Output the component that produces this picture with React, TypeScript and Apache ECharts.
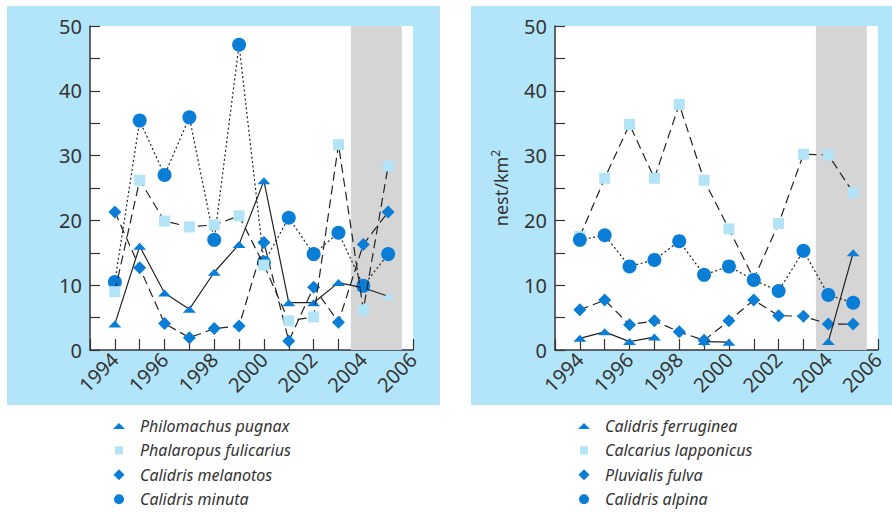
import React, { useEffect, useRef } from "react";
import * as echarts from "echarts";

const years = [1994, 1995, 1996, 1997, 1998, 1999, 2000, 2001, 2002, 2003, 2004, 2005];

// Left panel
const leftNames = ["Philomachus pugnax", "Phalaropus fulicarius", "Calidris melanotos", "Calidris minuta"];
const pugnax = [4, 16, 8.8, 6.3, 12, 16.3, 26.1, 7.3, 7.3, 10.4, 9.6, 8.3];
const pugnaxPaleYears = [2005];
const fulicarius = [9, 26.2, 19.9, 19, 19.3, 20.7, 13.1, 4.5, 5.1, 31.7, 6.2, 28.4];
const melanotos = [21.3, 12.7, 4.1, 1.9, 3.3, 3.7, 16.6, 1.4, 9.7, 4.3, 16.3, 21.3];
const minuta = [10.5, 35.4, 27, 35.9, 17, 47.1, 13.5, 20.4, 14.8, 18.1, 9.9, 14.8];

// Right panel
const rightNames = ["Calidris ferruginea", "Calcarius lapponicus", "Pluvialis fulva", "Calidris alpina"];
const ferruginea = [1.8, 2.8, 1.3, 2.0, null, 1.3, 1.2, null, null, null, 1.3, 15.0];
const lapponicus = [17.5, 26.5, 34.8, 26.5, 37.9, 26.2, 18.7, 11, 19.5, 30.2, 30.1, 24.3];
const fulva = [6.2, 7.7, 3.9, 4.5, 2.8, 1.5, 4.5, 7.7, 5.3, 5.2, 4.0, 4.0];
const alpina = [17.0, 17.7, 12.9, 13.9, 16.8, 11.6, 12.9, 10.8, 9.1, 15.3, 8.5, 7.3];

const shadedYears = [2003.5, 2005.55];
const xRange = [1993, 2006];
const yRange = [0, 50];
const yAxisName = "nest/km";

const DARK = "#0a7ed6";
const LIGHT = "#b3e3f7";
const PANEL = "#b3e5fa";
const INK = "#333333";
const FONT = "Noto Sans";

const TRI = "path://M0,7L6.5,0L13,7Z";
// legend icons, padded to a common 12x12 box
const L_TRI = "path://M0,0M12,12M0,9L6,3L12,9Z";
const L_SQR = "path://M0,0M12,12M2,2L10,2L10,10L2,10Z";
const L_DIA = "path://M0,0M12,12M6,0.5L11.5,6L6,11.5L0.5,6Z";
const L_CIR = "path://M0,0M12,12M6,1A5,5,0,1,1,6,11A5,5,0,1,1,6,1Z";

const pairs = (vals: (number | null)[], pale: number[] = []) =>
  years.map((y, i) =>
    pale.indexOf(y) >= 0 ? { value: [y, vals[i]], itemStyle: { color: LIGHT } } : [y, vals[i]]
  );

export default function App() {
  const ref = useRef<HTMLDivElement>(null);
  useEffect(() => {
    if (!ref.current) return;
    const chart = echarts.init(ref.current, undefined, { renderer: "svg" });

    const xAxisBase = (gridIndex: number) => ({
      type: "value",
      gridIndex,
      min: xRange[0],
      max: xRange[1],
      interval: 1,
      axisLine: { show: true, onZero: false, lineStyle: { color: INK, width: 1.5 } },
      axisTick: { show: true, inside: true, length: 11, lineStyle: { color: INK, width: 1.2 } },
      splitLine: { show: false },
      axisLabel: {
        rotate: 45,
        margin: 6,
        fontSize: 20,
        fontFamily: FONT,
        color: INK,
        formatter: (v: number) => (v % 2 === 0 ? String(v) : ""),
      },
    });
    const yAxisBase = (gridIndex: number, withName: boolean) => ({
      type: "value",
      gridIndex,
      min: yRange[0],
      max: yRange[1],
      interval: 5,
      axisLine: { show: true, lineStyle: { color: INK, width: 1.5 } },
      axisTick: { show: true, inside: true, length: 10, lineStyle: { color: INK, width: 1.2 } },
      splitLine: { show: false },
      axisLabel: {
        margin: 8,
        fontSize: 20,
        fontFamily: FONT,
        color: INK,
        formatter: (v: number) => (v % 10 === 0 ? String(v) : ""),
      },
      name: withName ? "{a|" + yAxisName + "}{b|2}" : "",
      nameLocation: "middle",
      nameGap: 42,
      nameTextStyle: {
        rich: {
          a: { fontSize: 18, fontFamily: FONT, color: INK, lineHeight: 24 },
          b: { fontSize: 12, fontFamily: FONT, color: INK, verticalAlign: "top", lineHeight: 24 },
        },
      },
    });

    const lineSeries = (
      name: string,
      data: any[],
      idx: number,
      symbol: string,
      size: number | number[],
      color: string,
      dash: any,
      z: number
    ) => ({
      type: "line",
      name,
      xAxisIndex: idx,
      yAxisIndex: idx,
      data,
      symbol,
      symbolSize: size,
      showSymbol: true,
      connectNulls: false,
      z,
      itemStyle: { color, borderWidth: 0 },
      lineStyle: { color: "#222", width: 1.2, type: dash },
    });

    const band = (idx: number) => ({
      type: "line",
      name: "band" + idx,
      xAxisIndex: idx,
      yAxisIndex: idx,
      data: [],
      z: 1,
      markArea: {
        silent: true,
        itemStyle: { color: "#d5d5d5" },
        data: [[{ xAxis: shadedYears[0] }, { xAxis: shadedYears[1] }]],
      },
    });

    const legendBase = (left: number, names: string[]) => ({
      orient: "vertical",
      left,
      top: 418,
      padding: 0,
      itemWidth: 32,
      itemHeight: 12,
      itemGap: 8.4,
      selectedMode: false,
      textStyle: { fontSize: 16, fontStyle: "italic", fontFamily: FONT, color: INK },
      data: [
        { name: names[0], icon: L_TRI },
        { name: names[1], icon: L_SQR },
        { name: names[2], icon: L_DIA },
        { name: names[3], icon: L_CIR },
      ],
    });

    chart.setOption({
      animation: false,
      graphic: [
        { type: "rect", z: -10, silent: true, shape: { x: 7, y: 6, width: 433, height: 399 }, style: { fill: PANEL } },
        { type: "rect", z: -10, silent: true, shape: { x: 471, y: 6, width: 421, height: 399 }, style: { fill: PANEL } },
      ],
      grid: [
        { left: 90, top: 26, width: 323, height: 324, show: true, backgroundColor: "#ffffff", borderWidth: 0 },
        { left: 555, top: 26, width: 323, height: 324, show: true, backgroundColor: "#ffffff", borderWidth: 0 },
      ],
      xAxis: [xAxisBase(0), xAxisBase(1)],
      yAxis: [yAxisBase(0, false), yAxisBase(1, true)],
      legend: [legendBase(113, leftNames), legendBase(578, rightNames)],
      series: [
        band(0),
        band(1),
        lineSeries(leftNames[3], pairs(minuta), 0, "circle", 14, DARK, [2, 2.5], 2),
        lineSeries(leftNames[2], pairs(melanotos), 0, "diamond", [13, 13], DARK, [9, 5], 3),
        lineSeries(leftNames[0], pairs(pugnax, pugnaxPaleYears), 0, TRI, [13, 7], DARK, "solid", 4),
        lineSeries(leftNames[1], pairs(fulicarius), 0, "rect", 11, LIGHT, [9, 5], 5),
        lineSeries(rightNames[1], pairs(lapponicus), 1, "rect", 11, LIGHT, [9, 5], 2),
        lineSeries(rightNames[2], pairs(fulva), 1, "diamond", [13, 13], DARK, [9, 5], 3),
        lineSeries(rightNames[0], pairs(ferruginea), 1, TRI, [13, 7], DARK, "solid", 4),
        lineSeries(rightNames[3], pairs(alpina), 1, "circle", 14, DARK, [2, 2.5], 5),
      ],
    });
    return () => chart.dispose();
  }, []);
  return (
    <div
      ref={ref}
      style={{ position: "absolute", left: 0, top: 0, width: 892, height: 512, background: "#ffffff" }}
    />
  );
}
